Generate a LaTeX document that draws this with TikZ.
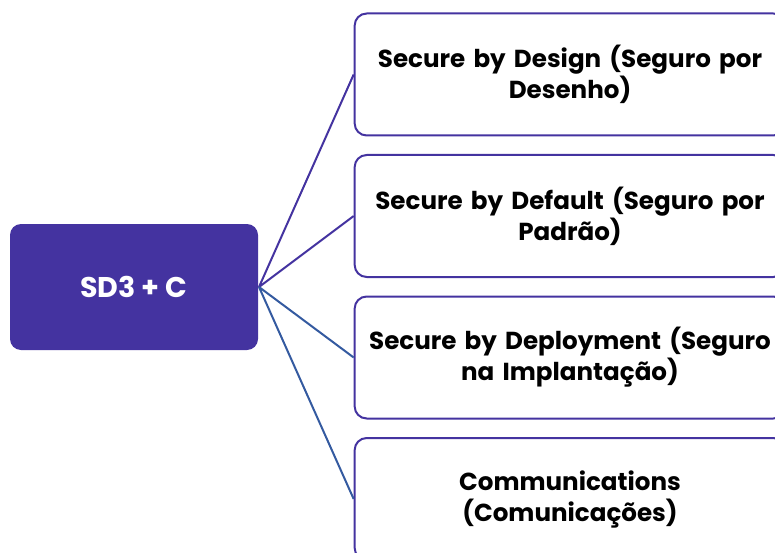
\documentclass[tikz,border=0pt]{standalone}
\usepackage{fontspec}
\setmainfont{Poppins}
\usetikzlibrary{positioning}

\definecolor{hubpurple}{RGB}{68,51,160}
\definecolor{linkblue}{RGB}{52,90,160}

\begin{document}
\begin{tikzpicture}[x=1pt,y=-1pt,node distance=141.5pt,line width=2pt]
  \tikzstyle{hub}=[rounded corners=11pt,fill=hubpurple,draw=none,text=white,
    minimum width=248pt,minimum height=126pt,font=\bfseries\fontsize{28.5}{33}\selectfont]
  \tikzstyle{leaf}=[rounded corners=12pt,draw=hubpurple,fill=white,text=black,
    minimum width=430pt,minimum height=122pt,text width=424pt,align=center,
    font=\bfseries\fontsize{24.6}{31}\selectfont]

  \clip (0,0) rectangle (775,553);

  \node[hub]  (sd)      at (134,287) {SD3 + C};
  \node[leaf] (design)  at (570,74.5) {Secure by Design (Seguro por\\Desenho)};
  \node[leaf] (default) [below of=design]  {Secure by Default (Seguro por\\Padrão)};
  \node[leaf] (deploy)  [below of=default] {Secure by Deployment (Seguro\\na Implantação)};
  \node[leaf] (comms)   [below of=deploy]  {Communications\\(Comunicações)};

  \path[draw=hubpurple] (sd.east) -- (design.west)
                        (sd.east) -- (default.west);
  \path[draw=linkblue]  (sd.east) -- (deploy.west)
                        (sd.east) -- (comms.west);
\end{tikzpicture}
\end{document}
